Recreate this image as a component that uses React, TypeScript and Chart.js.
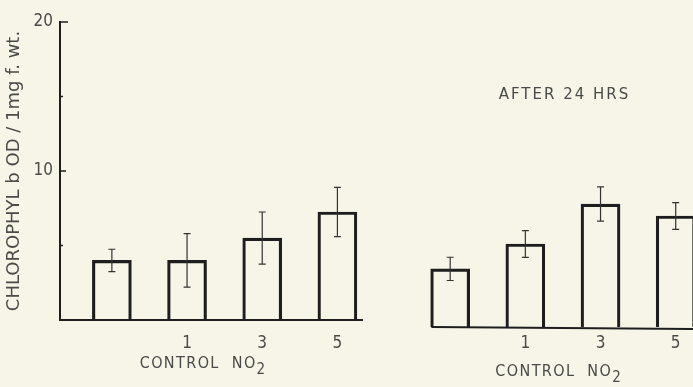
import React, { useEffect, useRef } from "react";
import { Chart, registerables } from "chart.js";

Chart.register(...registerables);

// ---- data ----
const POSITIONS = [0, 1, 2, 3, 4.5, 5.5, 6.5, 7.5];
const TICK_LABELS = ["", "1", "3", "5", "", "1", "3", "5"];
const INITIAL_VALUES = [4.0, 4.0, 5.5, 7.25];
const INITIAL_ERR = [0.75, 1.8, 1.75, 1.65];
const AFTER24_VALUES = [3.9, 5.57, 8.25, 7.45];
const AFTER24_ERR = [0.78, 0.9, 1.15, 0.9];
const Y_TICKS = [5, 10, 15, 20];
const Y_LABELED = [10, 20];
const Y_TITLE = "CHLOROPHYL b OD / 1mg f. wt.";
const GROUP_TITLE = "CONTROL  NO";
const ANNOTATION = "AFTER 24 HRS";

const FONT = "'DejaVu Sans Condensed', 'Liberation Sans Narrow', sans-serif";
const FONT_WIDE = "'DejaVu Sans', sans-serif";
const INK = "#1e1e1e";
const TEXT = "#4a4a48";
const PAPER = "#f7f5e8";

const paperPlugin = {
  id: "paper",
  beforeDraw(chart: any) {
    const { ctx, width, height } = chart;
    ctx.save();
    ctx.fillStyle = PAPER;
    ctx.fillRect(0, 0, width, height);
    ctx.restore();
  },
};

const extrasPlugin = {
  id: "extras",
  afterDatasetsDraw(chart: any) {
    const { ctx, chartArea } = chart;
    const xs = chart.scales.x;
    const ys = chart.scales.y;
    const ys2 = chart.scales.y2;
    ctx.save();

    // error bars
    const errs = [INITIAL_ERR, AFTER24_ERR];
    chart.data.datasets.forEach((ds: any, di: number) => {
      const meta = chart.getDatasetMeta(di);
      const sc = di === 0 ? ys : ys2;
      meta.data.forEach((el: any, i: number) => {
        const v = ds.data[i].y;
        const e = errs[di][i];
        const yHi = sc.getPixelForValue(v + e);
        const yLo = sc.getPixelForValue(v - e);
        const x = el.x;
        ctx.strokeStyle = "#333";
        ctx.lineWidth = 1.2;
        ctx.beginPath();
        ctx.moveTo(x, yHi);
        ctx.lineTo(x, yLo);
        ctx.moveTo(x - 3.5, yHi);
        ctx.lineTo(x + 3.5, yHi);
        ctx.moveTo(x - 3.5, yLo);
        ctx.lineTo(x + 3.5, yLo);
        ctx.stroke();
      });
    });

    // baselines
    ctx.strokeStyle = INK;
    ctx.lineWidth = 2;
    ctx.beginPath();
    const y0 = ys.getPixelForValue(0);
    ctx.moveTo(chartArea.left, y0);
    ctx.lineTo(xs.getPixelForValue(POSITIONS[3] + 0.34), y0);
    const y02 = ys2.getPixelForValue(0);
    ctx.moveTo(xs.getPixelForValue(POSITIONS[4] - 0.25), y02);
    ctx.lineTo(chartArea.right, y02 + 2);
    ctx.stroke();

    // y ticks (inside)
    ctx.lineWidth = 1.5;
    ctx.beginPath();
    Y_TICKS.forEach((t) => {
      const y = ys.getPixelForValue(t);
      const len = t === 20 ? 8 : t === 10 ? 6 : 3;
      ctx.moveTo(chartArea.left, y);
      ctx.lineTo(chartArea.left + len, y);
    });
    ctx.stroke();

    // group titles: CONTROL NO2
    ctx.fillStyle = TEXT;
    ctx.textBaseline = "alphabetic";
    ctx.textAlign = "left";
    const drawGroup = (x: number, y: number) => {
      ctx.font = `16px ${FONT}`;
      (ctx as any).letterSpacing = "1.4px";
      ctx.fillText(GROUP_TITLE, x, y);
      const w2 = ctx.measureText(GROUP_TITLE).width;
      ctx.font = `15px ${FONT}`;
      ctx.fillText("2", x + w2, y + 6);
    };
    drawGroup(xs.getPixelForValue(POSITIONS[0] + 0.37), chartArea.bottom + 48);
    drawGroup(xs.getPixelForValue(POSITIONS[4] + 0.6), chartArea.bottom + 56);

    // annotation
    ctx.font = `15px ${FONT_WIDE}`;
    (ctx as any).letterSpacing = "2px";
    ctx.textAlign = "center";
    ctx.textBaseline = "middle";
    ctx.fillText(ANNOTATION, xs.getPixelForValue(6.02), ys.getPixelForValue(15.1));
    ctx.restore();
  },
};

export default function App() {
  const ref = useRef<HTMLCanvasElement | null>(null);
  useEffect(() => {
    document.body.style.margin = "0";
    document.body.style.background = PAPER;
    const barStyle = {
      grouped: false,
      barThickness: 39,
      backgroundColor: "rgba(0,0,0,0)",
      borderColor: INK,
      borderWidth: 2.5,
      clip: false,
    };
    const chart = new Chart(ref.current as HTMLCanvasElement, {
      type: "bar",
      data: {
        datasets: [
          {
            data: INITIAL_VALUES.map((v, i) => ({ x: POSITIONS[i], y: v })),
            yAxisID: "y",
            ...barStyle,
          },
          {
            data: AFTER24_VALUES.map((v, i) => ({ x: POSITIONS[i + 4], y: v })),
            yAxisID: "y2",
            ...barStyle,
          },
        ],
      },
      options: {
        animation: false,
        responsive: false,
        events: [],
        layout: { padding: { top: 22, left: 0, right: 0, bottom: 0 } },
        plugins: { legend: { display: false }, tooltip: { enabled: false } },
        scales: {
          x: {
            type: "linear",
            offset: false,
            min: -0.69,
            max: 7.73,
            afterBuildTicks: (scale: any) => {
              scale.ticks = POSITIONS.map((v) => ({ value: v }));
            },
            afterFit: (scale: any) => {
              scale.height = 67;
            },
            ticks: {
              autoSkip: false,
              maxRotation: 0,
              padding: 5,
              color: TEXT,
              font: { family: FONT, size: 17 },
              callback: (_v: any, i: number) => TICK_LABELS[i],
            },
            grid: { display: false },
            border: { display: false },
          },
          y: {
            min: 0,
            max: 20,
            afterBuildTicks: (scale: any) => {
              scale.ticks = Y_LABELED.map((v) => ({ value: v }));
            },
            afterFit: (scale: any) => {
              scale.width = 60;
            },
            ticks: {
              padding: 7,
              color: TEXT,
              font: { family: FONT, size: 17 },
            },
            grid: { display: false, drawTicks: false },
            border: { display: true, color: INK, width: 2 },
            title: {
              display: true,
              text: Y_TITLE,
              color: TEXT,
              font: { family: FONT_WIDE, size: 18, lineHeight: 1.2 },
              padding: { top: 4, bottom: 0 },
            },
          },
          y2: {
            display: false,
            min: 0.47,
            max: 20.47,
          },
        },
      },
      plugins: [paperPlugin, extrasPlugin],
    } as any);
    return () => chart.destroy();
  }, []);
  return (
    <div style={{ position: "absolute", left: 0, top: 0, width: 693, height: 387 }}>
      <canvas ref={ref} width={693} height={387} />
    </div>
  );
}
